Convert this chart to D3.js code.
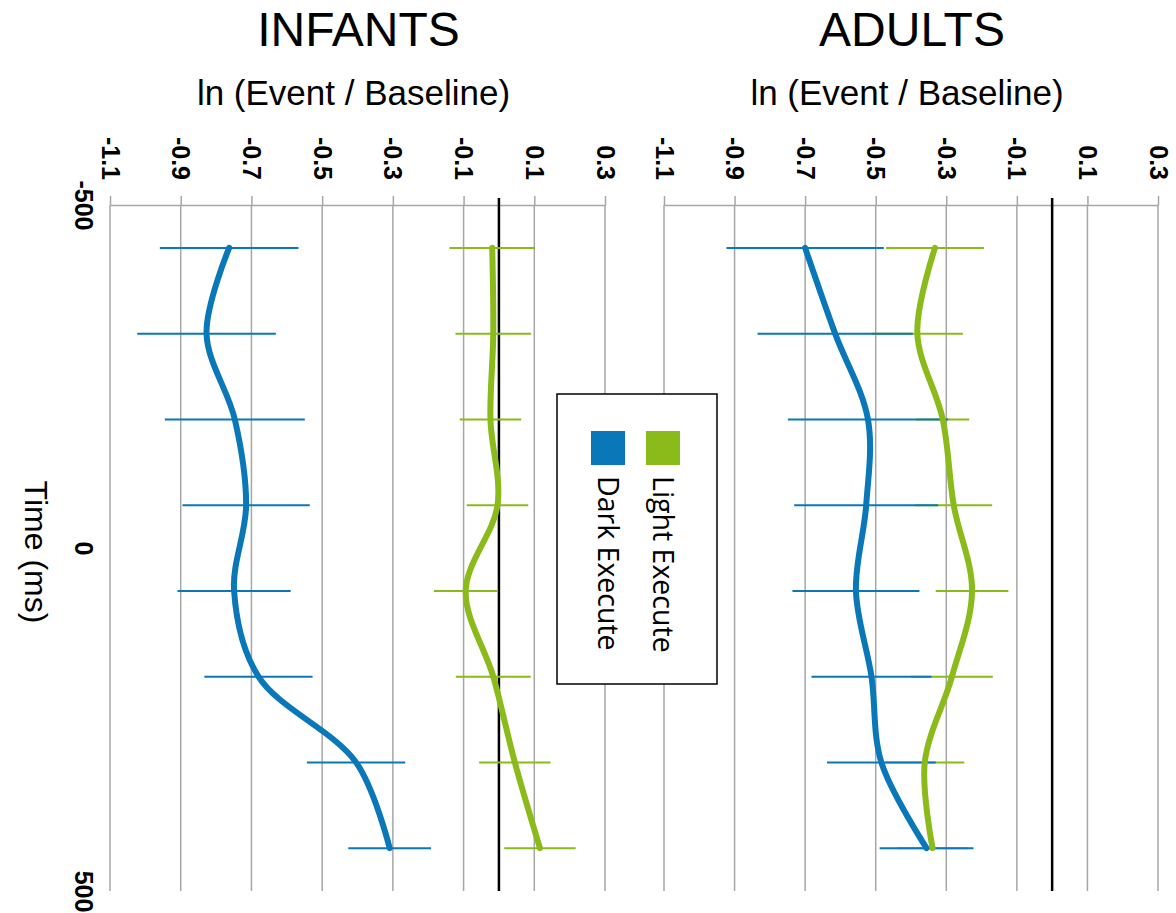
<!DOCTYPE html>
<html>
  <head>
    <meta charset="utf-8">
    <script src="https://d3js.org/d3.v7.min.js"></script>
    <style>
      body { margin: 0; background: #fff; }
      text { font-family: "Liberation Sans", Arial, sans-serif; }
    </style>
  </head>
  <body>
    <script type="text/javascript">
      "use strict";

      // time bins (ms), shared by both panels
      var times = [-437.5, -312.5, -187.5, -62.5, 62.5, 187.5, 312.5, 437.5];
      var valueTicks = [-1.1, -0.9, -0.7, -0.5, -0.3, -0.1, 0.1, 0.3];
      var timeTicks = [-500, 0, 500];

      // ln(Event / Baseline), means and error half-widths
      var infantDark     = [-0.763, -0.827, -0.747, -0.715, -0.749, -0.680, -0.404, -0.309];
      var infantDarkErr  = [0.196, 0.196, 0.198, 0.180, 0.160, 0.153, 0.139, 0.117];
      var infantLight    = [-0.019, -0.016, -0.024, -0.004, -0.094, -0.016, 0.045, 0.116];
      var infantLightErr = [0.121, 0.107, 0.087, 0.087, 0.090, 0.106, 0.101, 0.101];

      var adultDark     = [-0.700, -0.615, -0.522, -0.527, -0.556, -0.512, -0.484, -0.356];
      var adultDarkErr  = [0.223, 0.220, 0.227, 0.204, 0.180, 0.170, 0.154, 0.133];
      var adultLight    = [-0.332, -0.382, -0.310, -0.279, -0.227, -0.284, -0.361, -0.339];
      var adultLightErr = [0.139, 0.129, 0.075, 0.109, 0.103, 0.116, 0.112, 0.100];

      var seriesNames = ["Light Execute", "Dark Execute"];
      var blue = "#0a78b8",
          green = "#8bba1b",
          grid = "#a6a6a6";

      var width = 1176,
          height = 913;

      var svg = d3.select("body")
        .append("svg")
          .attr("width", width)
          .attr("height", height);

      var y = d3.scaleLinear().domain([-500, 500]).range([205, 891]);

      var panels = [
        { title: "INFANTS", left: 110, right: 605,
          light: infantLight, lightErr: infantLightErr, dark: infantDark, darkErr: infantDarkErr },
        { title: "ADULTS", left: 664, right: 1158,
          light: adultLight, lightErr: adultLightErr, dark: adultDark, darkErr: adultDarkErr }
      ];

      panels.forEach(function (p) {
        var x = d3.scaleLinear().domain([-1.1, 0.3]).range([p.left, p.right]);
        var cx = (p.left + p.right) / 2;
        var g = svg.append("g");

        // titles
        g.append("text")
          .attr("x", cx + 1).attr("y", 46)
          .style("text-anchor", "middle")
          .style("font-size", "48px")
          .text(p.title);
        g.append("text")
          .attr("x", cx - 4).attr("y", 105)
          .style("text-anchor", "middle")
          .style("font-size", "35px")
          .text("ln (Event / Baseline)");

        // gridlines
        g.selectAll(".grid")
          .data(valueTicks)
          .enter().append("line")
            .attr("x1", function (d) { return x(d); })
            .attr("x2", function (d) { return x(d); })
            .attr("y1", y(-500))
            .attr("y2", y(500))
            .attr("stroke", grid)
            .attr("stroke-width", 1.5);

        // value axis on top, labels turned a quarter clockwise
        var ax = g.append("g")
          .attr("transform", "translate(0," + y(-500) + ")")
          .call(d3.axisTop(x)
            .tickValues(valueTicks)
            .tickSize(9)
            .tickSizeOuter(0)
            .tickFormat(function (d) { return d.toFixed(1); }));
        ax.select(".domain").attr("stroke", grid).attr("stroke-width", 1.5);
        ax.selectAll(".tick line").attr("stroke", grid).attr("stroke-width", 1.5);
        ax.selectAll(".tick text")
          .attr("transform", "rotate(90)")
          .attr("x", -25)
          .attr("y", 0)
          .attr("dy", "0.36em")
          .attr("font-size", 25)
          .attr("font-weight", "bold")
          .style("text-anchor", "end")
          .attr("fill", "#000");

        // zero line
        g.append("line")
          .attr("x1", x(0)).attr("x2", x(0))
          .attr("y1", y(-500) - 7).attr("y2", y(500))
          .attr("stroke", "#000")
          .attr("stroke-width", 2.5);

        // error bars
        [[p.light, p.lightErr, green], [p.dark, p.darkErr, blue]].forEach(function (s) {
          g.selectAll(null)
            .data(times)
            .enter().append("line")
              .attr("x1", function (d, i) { return x(s[0][i] - s[1][i]); })
              .attr("x2", function (d, i) { return x(s[0][i] + s[1][i]); })
              .attr("y1", function (d) { return y(d); })
              .attr("y2", function (d) { return y(d); })
              .attr("stroke", s[2])
              .attr("stroke-width", 2);
        });

        // smoothed lines
        [[p.dark, blue], [p.light, green]].forEach(function (s) {
          var line = d3.line()
            .x(function (d, i) { return x(s[0][i]); })
            .y(function (d) { return y(d); })
            .curve(d3.curveCatmullRom);
          g.append("path")
            .datum(times)
            .attr("d", line)
            .attr("fill", "none")
            .attr("stroke", s[1])
            .attr("stroke-width", 6)
            .attr("stroke-linecap", "round")
            .attr("stroke-linejoin", "round");
        });
      });

      // time axis
      var ty = svg.append("g")
        .attr("transform", "translate(110,0)")
        .call(d3.axisLeft(y)
          .tickValues(timeTicks)
          .tickSize(0)
          .tickFormat(function (d) { return String(d); }));
      ty.select(".domain").remove();
      ty.selectAll(".tick text")
        .attr("x", 0)
        .attr("transform", "translate(-26,0) rotate(90)")
        .attr("dy", "0.36em")
        .attr("font-size", 25)
        .attr("font-weight", "bold")
        .style("text-anchor", "middle")
        .attr("fill", "#000");

      svg.append("text")
        .attr("transform", "translate(36," + (y(0) + 4) + ") rotate(90)")
        .attr("dy", "0.35em")
        .style("text-anchor", "middle")
        .style("font-size", "32px")
        .text("Time (ms)");

      // legend
      var legend = svg.append("g").attr("transform", "translate(557,394)");
      legend.append("rect")
        .attr("width", 160).attr("height", 290)
        .attr("fill", "#fff")
        .attr("stroke", "#000")
        .attr("stroke-width", 1.5);
      var items = legend.selectAll(".item")
        .data(seriesNames)
        .enter().append("g")
          .attr("transform", function (d, i) { return "translate(" + (106 - i * 55) + ",37)"; });
      items.append("rect")
        .attr("x", -17).attr("width", 34).attr("height", 34)
        .attr("fill", function (d, i) { return i === 0 ? green : blue; });
      items.append("text")
        .attr("transform", "translate(0,45) rotate(90)")
        .attr("dy", "0.35em")
        .style("font-family", "'Open Sans', sans-serif")
        .style("font-size", "28.5px")
        .text(function (d) { return d; });
    </script>
  </body>
</html>
